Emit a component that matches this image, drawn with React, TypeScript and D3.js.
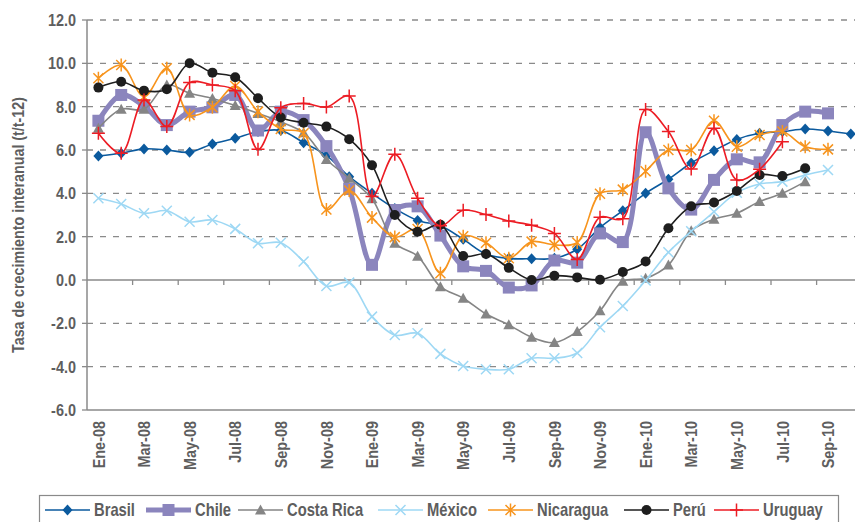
import * as d3 from "d3";

// monthly categories, Ene-08 .. Oct-10
const months = [
  "Ene-08", "Feb-08", "Mar-08", "Abr-08", "May-08", "Jun-08", "Jul-08", "Ago-08", "Sep-08", "Oct-08", "Nov-08", "Dic-08",
  "Ene-09", "Feb-09", "Mar-09", "Abr-09", "May-09", "Jun-09", "Jul-09", "Ago-09", "Sep-09", "Oct-09", "Nov-09", "Dic-09",
  "Ene-10", "Feb-10", "Mar-10", "Abr-10", "May-10", "Jun-10", "Jul-10", "Ago-10", "Sep-10", "Oct-10",
];
const tickLabels = [
  "Ene-08", "Mar-08", "May-08", "Jul-08", "Sep-08", "Nov-08", "Ene-09", "Mar-09", "May-09",
  "Jul-09", "Sep-09", "Nov-09", "Ene-10", "Mar-10", "May-10", "Jul-10", "Sep-10",
];
const yTicks = [12, 10, 8, 6, 4, 2, 0, -2, -4, -6];

const brasil = [
  5.72, 5.85, 6.05, 6.0, 5.9, 6.28, 6.54, 6.85, 6.9, 6.34, 5.75, 4.77,
  4.0, 3.3, 2.75, 2.5, 1.88, 1.2, 1.0, 0.98, 1.0, 1.42, 2.42, 3.2,
  4.0, 4.65, 5.4, 5.97, 6.49, 6.77, 6.85, 6.97, 6.88, 6.74,
];
const chile = [
  7.35, 8.54, 8.03, 7.15, 7.77, 7.97, 8.54, 6.9, 7.77, 7.38, 6.18, 4.2,
  0.7, 3.23, 3.4, 2.05, 0.63, 0.42, -0.35, -0.25, 0.9, 0.8, 2.15, 1.75,
  6.82, 4.23, 3.25, 4.62, 5.57, 5.43, 7.15, 7.77, 7.69, null,
];
const costaRica = [
  7.0, 7.88, 7.88, 9.0, 8.62, 8.38, 8.05, 7.69, 7.3, 6.8, 5.56, 4.7,
  3.75, 1.7, 1.1, -0.31, -0.84, -1.57, -2.07, -2.64, -2.89, -2.38, -1.42, -0.06,
  0.08, 0.69, 2.27, 2.8, 3.08, 3.62, 4.0, 4.54, null, null,
];
const mexico = [
  3.77, 3.51, 3.08, 3.2, 2.69, 2.77, 2.36, 1.7, 1.72, 0.85, -0.28, -0.12,
  -1.69, -2.54, -2.46, -3.41, -3.97, -4.12, -4.12, -3.61, -3.61, -3.37, -2.18, -1.2,
  -0.02, 1.28, 2.25, 3.15, 4.03, 4.43, 4.54, 4.85, 5.08, null,
];
const nicaragua = [
  9.31, 9.92, 8.46, 9.77, 7.62, 7.97, 8.95, 7.77, 6.97, 6.77, 3.25, 4.13,
  2.88, 1.98, 2.35, 0.31, 2.02, 1.72, 1.0, 1.77, 1.62, 1.73, 3.98, 4.17,
  5.02, 6.0, 6.0, 7.35, 6.15, 6.69, 6.85, 6.15, 6.03, null,
];
const peru = [
  8.88, 9.15, 8.74, 8.8, 10.0, 9.57, 9.36, 8.39, 7.5, 7.26, 7.08, 6.5,
  5.3, 3.0, 2.23, 2.55, 1.11, 1.2, 0.56, 0.0, 0.2, 0.12, 0.01, 0.37,
  0.85, 2.39, 3.4, 3.58, 4.11, 4.85, 4.8, 5.16, null, null,
];
const uruguay = [
  6.77, 5.85, 8.31, 7.08, 9.11, 9.0, 8.74, 6.03, 7.95, 8.15, 7.98, 8.49,
  3.85, 5.8, 3.77, 2.5, 3.22, 3.02, 2.72, 2.53, 2.15, 0.95, 2.9, 2.83,
  7.87, 6.85, 5.12, 7.0, 4.62, 5.11, 6.38, null, null, null,
];

const series = [
  { name: "Brasil", values: brasil, color: "#0B5A9E", width: 1.6, marker: "diamond" },
  { name: "Chile", values: chile, color: "#8B85BD", width: 5, marker: "square" },
  { name: "Costa Rica", values: costaRica, color: "#858585", width: 1.6, marker: "triangle" },
  { name: "México", values: mexico, color: "#9ED8F4", width: 1.6, marker: "cross" },
  { name: "Nicaragua", values: nicaragua, color: "#F7941D", width: 1.6, marker: "star" },
  { name: "Perú", values: peru, color: "#1E1E1E", width: 1.6, marker: "circle" },
  { name: "Uruguay", values: uruguay, color: "#EC1C24", width: 1.6, marker: "plus" },
];

// legend layout (start of each sample line)
const legendX = [45, 146, 238, 378, 488, 624, 714];

const W = 855;
const H = 522;
// narrow look: Arial metrics squeezed horizontally
const FONT = "'Liberation Sans', Arial, sans-serif";
const TEXT = "#5E5E5E";
const GRID = "#8A8A8A";

function Marker({ type, color, x, y }) {
  const t = `translate(${x},${y})`;
  switch (type) {
    case "diamond":
      return <path transform={t} d="M0,-5.5L5,0L0,5.5L-5,0Z" fill={color} />;
    case "square":
      return <rect transform={t} x={-6} y={-6} width={12} height={12} fill={color} />;
    case "triangle":
      return <path transform={t} d="M0,-5.5L5.5,4.5L-5.5,4.5Z" fill={color} />;
    case "cross":
      return <path transform={t} d="M-5,-5L5,5M-5,5L5,-5" stroke={color} strokeWidth={1.5} fill="none" />;
    case "star":
      return <path transform={t} d="M-5,-5L5,5M-5,5L5,-5M0,-6.5L0,6.5" stroke={color} strokeWidth={1.5} fill="none" />;
    case "circle":
      return <circle transform={t} r={5} fill={color} />;
    case "plus":
      return <path transform={t} d="M-6.5,0L6.5,0M0,-6.5L0,6.5" stroke={color} strokeWidth={1.5} fill="none" />;
    default:
      return null;
  }
}

export default function App() {
  const left = 87;
  const band = 22.8;
  const x = d3.scaleBand().domain(months).range([left, left + months.length * band]).padding(0);
  const y = d3.scaleLinear().domain([-6, 12]).range([410, 20]);
  const cx = (i) => x(months[i]) + x.bandwidth() / 2;
  const right = left + months.length * band;

  const line = d3
    .line()
    .defined((d) => d != null)
    .x((d, i) => cx(i))
    .y((d) => y(d))
    .curve(d3.curveCatmullRom);

  const boundaryTicks = d3.range(2, months.length + 1, 2).map((k) => left + k * band);

  return (
    <svg width={W} height={H} style={{ position: "absolute", left: 0, top: 0, background: "#fff" }}>
      {/* gridlines */}
      {yTicks.map((v) => (
        <line
          key={v}
          x1={left}
          x2={right}
          y1={y(v)}
          y2={y(v)}
          stroke={GRID}
          strokeWidth={1.3}
          strokeDasharray={v === 0 || v === -6 ? null : "6,7"}
        />
      ))}
      {/* y axis */}
      <line x1={left} x2={left} y1={y(12)} y2={y(-6)} stroke={GRID} strokeWidth={1.5} />
      {yTicks.map((v) => (
        <g key={"yt" + v}>
          <line x1={left - 5} x2={left} y1={y(v)} y2={y(v)} stroke={GRID} strokeWidth={1.3} />
          <text
            transform={`translate(${left - 11},${y(v)}) scale(0.85,1)`}
            dy="0.36em"
            textAnchor="end"
            fontFamily={FONT}
            fontWeight="bold"
            fontSize={17}
            fill={TEXT}
          >
            {v.toFixed(1)}
          </text>
        </g>
      ))}
      {/* tick marks on zero line */}
      {boundaryTicks.map((bx) => (
        <line key={"bt" + bx} x1={bx} x2={bx} y1={y(0)} y2={y(0) + 5} stroke={GRID} strokeWidth={1.3} />
      ))}
      {/* x labels */}
      {tickLabels.map((lab) => (
        <text
          key={lab}
          transform={`translate(${x(lab) + x.bandwidth() / 2},421) rotate(-90) scale(0.85,1)`}
          dy="0.36em"
          textAnchor="end"
          fontFamily={FONT}
          fontWeight="bold"
          fontSize={17}
          fill={TEXT}
        >
          {lab}
        </text>
      ))}
      {/* axis title */}
      <text
        transform="translate(18,225) rotate(-90) scale(0.84,1)"
        dy="0.36em"
        textAnchor="middle"
        fontFamily={FONT}
        fontWeight="bold"
        fontSize={17}
        fill={TEXT}
      >
        Tasa de crecimiento interanual (t/t-12)
      </text>

      {/* series */}
      {series.map((s) => (
        <g key={s.name}>
          <path d={line(s.values)} fill="none" stroke={s.color} strokeWidth={s.width} strokeLinejoin="round" />
          {s.values.map((v, i) =>
            v == null ? null : <Marker key={i} type={s.marker} color={s.color} x={cx(i)} y={y(v)} />
          )}
        </g>
      ))}

      {/* legend */}
      <rect x={39.5} y={495.5} width={799} height={40} fill="none" stroke={GRID} strokeWidth={1.2} />
      {series.map((s, i) => (
        <g key={"lg" + s.name}>
          <line x1={legendX[i]} x2={legendX[i] + 45} y1={510} y2={510} stroke={s.color} strokeWidth={s.width} />
          <Marker type={s.marker} color={s.color} x={legendX[i] + 22.5} y={510} />
          <text
            transform={`translate(${legendX[i] + 49},510) scale(0.82,1)`}
            dy="0.36em"
            fontFamily={FONT}
            fontWeight="bold"
            fontSize={18}
            fill={TEXT}
          >
            {s.name}
          </text>
        </g>
      ))}
    </svg>
  );
}
